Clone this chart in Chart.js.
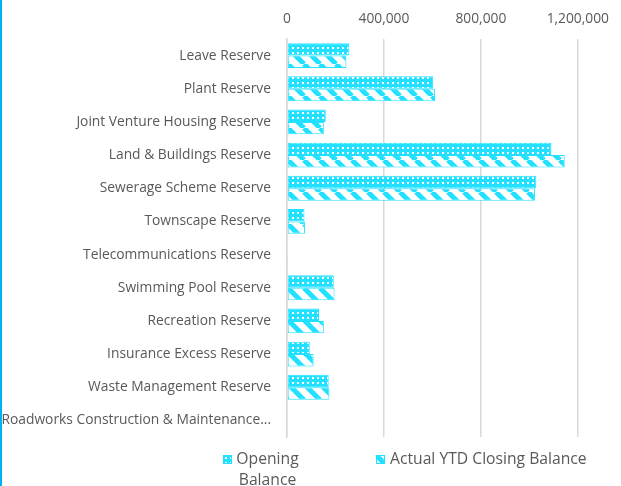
<!DOCTYPE html>
<html>
<head>
<meta charset="utf-8">
<script src="https://cdn.jsdelivr.net/npm/chart.js@4"></script>
<style>
    html, body { margin: 0; padding: 0; background: #ffffff; }
    #wrap { position: relative; width: 621px; height: 486px; overflow: hidden; }
    #chart { position: absolute; left: 0; top: 0; }
    #edge { position: absolute; left: 0; top: 0; width: 2px; height: 486px; background: #00b0f0; }
    .legend-box { position: absolute; width: 9px; height: 9px; }
    .legend-text {
        position: absolute;
        font-family: "Open Sans", sans-serif;
        font-size: 15.7px;
        line-height: 21px;
        color: #595959;
    }
</style>
</head>
<body>
<div id="wrap">
    <canvas id="chart" width="621" height="486"></canvas>
    <div id="edge"></div>
    <canvas class="legend-box" id="boxOpening" width="9" height="9" style="left:223px;top:455px;"></canvas>
    <div class="legend-text" style="left:235px;top:448px;width:65px;text-align:center;">Opening Balance</div>
    <canvas class="legend-box" id="boxClosing" width="9" height="9" style="left:376px;top:455px;"></canvas>
    <div class="legend-text" style="left:390px;top:448px;white-space:nowrap;">Actual YTD Closing Balance</div>
</div>
<script>
// ======================
// DATA
// ======================
const categories = [
    "Leave Reserve",
    "Plant Reserve",
    "Joint Venture Housing Reserve",
    "Land & Buildings Reserve",
    "Sewerage Scheme Reserve",
    "Townscape Reserve",
    "Telecommunications Reserve",
    "Swimming Pool Reserve",
    "Recreation Reserve",
    "Insurance Excess Reserve",
    "Waste Management Reserve",
    "Roadworks Construction & Maintenance..."
];
const openingBalance = [257000, 603000, 160000, 1091000, 1029000, 72000, 3000, 193000, 132000, 94000, 172000, 0];
const closingBalance = [245000, 611000, 152000, 1146000, 1023000, 74000, 2000, 196000, 152000, 110000, 175000, 0];
const axisMax = 1200000;
const axisStep = 400000;

const CYAN = "#22e0ff";
const TEXT = "#595959";
const GRID = "#d9d9d9";

// ======================
// PATTERNS
// ======================
function dotPattern(ctx) {
    const c = document.createElement("canvas");
    c.width = 5; c.height = 5;
    const p = c.getContext("2d");
    p.fillStyle = CYAN;
    p.fillRect(0, 0, 5, 5);
    p.fillStyle = "#ffffff";
    p.fillRect(2, 2, 2, 2);
    return ctx.createPattern(c, "repeat");
}

function stripePattern(ctx) {
    const c = document.createElement("canvas");
    c.width = 16; c.height = 16;
    const p = c.getContext("2d");
    p.fillStyle = "#ffffff";
    p.fillRect(0, 0, 16, 16);
    p.strokeStyle = CYAN;
    p.lineWidth = 5;
    [-16, 0, 16].forEach(function (off) {
        p.beginPath();
        p.moveTo(off, 0);
        p.lineTo(off + 16, 16);
        p.stroke();
    });
    return ctx.createPattern(c, "repeat");
}

const mainCtx = document.getElementById("chart").getContext("2d");

// legend swatches
["boxOpening", "boxClosing"].forEach(function (id, i) {
    const ctx = document.getElementById(id).getContext("2d");
    ctx.fillStyle = i === 0 ? dotPattern(ctx) : stripePattern(ctx);
    ctx.fillRect(0, 0, 9, 9);
    ctx.strokeStyle = CYAN;
    ctx.lineWidth = 1;
    ctx.strokeRect(0.5, 0.5, 8, 8);
});

// ======================
// CHART
// ======================
new Chart(mainCtx, {
    type: "bar",
    data: {
        labels: categories,
        datasets: [
            {
                label: "Opening Balance",
                data: openingBalance,
                backgroundColor: dotPattern(mainCtx),
                borderColor: CYAN,
                borderWidth: 1,
                borderSkipped: false
            },
            {
                label: "Actual YTD Closing Balance",
                data: closingBalance,
                backgroundColor: stripePattern(mainCtx),
                borderColor: CYAN,
                borderWidth: 1,
                borderSkipped: false
            }
        ]
    },
    options: {
        indexAxis: "y",
        responsive: false,
        animation: false,
        devicePixelRatio: 1,
        categoryPercentage: 0.75,
        barPercentage: 1.0,
        layout: { padding: { left: 0, top: 0, right: 41, bottom: 49 } },
        plugins: {
            legend: { display: false },
            tooltip: { enabled: false }
        },
        scales: {
            x: {
                position: "top",
                min: 0,
                max: axisMax,
                ticks: {
                    stepSize: axisStep,
                    padding: 12,
                    color: TEXT,
                    font: { family: "Open Sans", size: 13.8 },
                    callback: function (v) { return v.toLocaleString("en-US"); }
                },
                grid: { color: GRID, lineWidth: 1.5, drawTicks: false },
                border: { display: false },
                afterFit: function (scale) { scale.height = 39; }
            },
            y: {
                ticks: {
                    padding: 16,
                    color: TEXT,
                    autoSkip: false,
                    font: { family: "Open Sans", size: 13.8 }
                },
                grid: { display: false, drawTicks: false },
                border: { display: true, color: GRID, width: 1.5 },
                afterFit: function (scale) { scale.width = 287; }
            }
        }
    }
});
</script>
</body>
</html>
